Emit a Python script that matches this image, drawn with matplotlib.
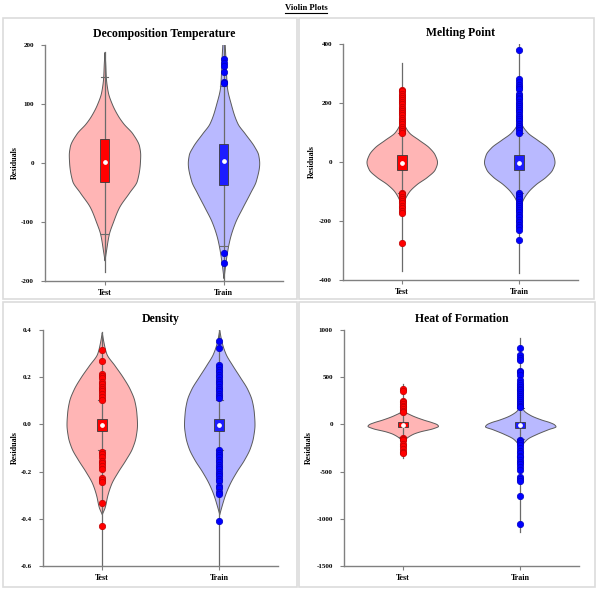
import numpy as np
import matplotlib
matplotlib.use('Agg')
import matplotlib.pyplot as plt
from matplotlib.patches import Rectangle
from matplotlib.lines import Line2D

plt.rcParams['font.family'] = ['Liberation Serif', 'DejaVu Serif']
plt.rcParams['font.weight'] = 'bold'

W, H = 600, 596

categories = ['Test', 'Train']
titles = ['Decomposition Temperature', 'Melting Point', 'Density', 'Heat of Formation']

# ---- Decomposition Temperature ----
dt_test_prof_y = [188, 170, 145, 120, 100, 80, 67, 50, 28, 14, 0, -30, -50, -75, -100, -120, -150, -165]
dt_test_prof_w = [0, 2, 4, 10, 22, 40, 56, 83, 103, 106, 105, 96, 73, 43, 25, 13, 4, 0]
dt_train_prof_y = [205, 186, 160, 130, 100, 67, 50, 28, 14, 0, -30, -50, -75, -100, -125, -140, -160, -195]
dt_train_prof_w = [3, 5, 7, 10, 22, 42, 64, 92, 104, 107, 97, 80, 57, 35, 20, 14, 8, 0]
dt_box = {'Test': (-32, 2, 40), 'Train': (-37, 3, 32)}
dt_caps = {'Test': (-120, 145), 'Train': (-140, 130)}
dt_range = {'Test': (-184, 188), 'Train': (-205, 205)}
dt_test_out = []
dt_train_out = [177, 169, 165, 155, 137, 135, -152, -169]
dt_yticks = [-200, -100, 0, 100, 200]

# ---- Melting Point ----
mp_test_prof_y = [140, 130, 100, 75, 50, 25, 0, -25, -50, -75, -100, -125, -150]
mp_test_prof_w = [0, 5, 22, 52, 82, 100, 107, 100, 77, 45, 22, 9, 0]
mp_train_prof_y = [150, 130, 100, 75, 50, 25, 0, -25, -50, -75, -100, -125, -150, -160]
mp_train_prof_w = [0, 6, 25, 55, 85, 102, 107, 100, 80, 50, 27, 12, 3, 0]
mp_box = {'Test': (-28, -4, 24), 'Train': (-28, -3, 24)}
mp_caps = {'Test': (-105, 100), 'Train': (-105, 100)}
mp_range = {'Test': (-370, 335), 'Train': (-377, 400)}
mp_test_out = [245, 240, 232, 225, 218, 210, 202, 195, 188, 180, 172, 165, 158, 150, 142,
               135, 128, 120, 112, 105, 100, -105, -110, -118, -125, -132, -140, -148,
               -156, -165, -172, -275]
mp_train_out = [380, 280, 272, 262, 255, 248, 230, 225, 218, 212, 205, 198, 190, 183, 176,
                168, 160, 152, 145, 138, 130, 122, 115, 108, 100, -105, -112, -120, -127,
                -134, -141, -148, -155, -162, -170, -178, -186, -195, -205, -215, -222,
                -230, -265]
mp_yticks = [-400, -200, 0, 200, 400]

# ---- Density ----
d_test_prof_y = [0.39, 0.35, 0.30, 0.25, 0.20, 0.15, 0.10, 0.05, 0.0, -0.05, -0.10, -0.15, -0.20, -0.25, -0.30, -0.35, -0.38]
d_test_prof_w = [0, 5, 14, 39, 64, 85, 99, 105, 107, 103, 92, 72, 49, 29, 17, 9, 0]
d_train_prof_y = [0.40, 0.35, 0.30, 0.25, 0.20, 0.15, 0.10, 0.05, 0.0, -0.05, -0.10, -0.15, -0.20, -0.25, -0.30, -0.35, -0.38]
d_train_prof_w = [0, 7, 19, 40, 63, 85, 99, 105, 107, 103, 93, 75, 52, 32, 17, 6, 0]
d_box = {'Test': (-0.027, -0.002, 0.025), 'Train': (-0.027, -0.002, 0.025)}
d_caps = {'Test': (-0.11, 0.105), 'Train': (-0.11, 0.105)}
d_range = {'Test': (-0.6, 0.39), 'Train': (-0.6, 0.40)}
d_test_out = [0.315, 0.27, 0.215, 0.205, 0.195, 0.18, 0.17, 0.16, 0.15, 0.14, 0.13, 0.115,
              0.105, -0.115, -0.125, -0.14, -0.155, -0.165, -0.175, -0.19, -0.225, -0.235,
              -0.245, -0.335, -0.43]
d_train_out = [0.355, 0.325, 0.25, 0.245, 0.23, 0.22, 0.21, 0.2, 0.19, 0.18, 0.17, 0.16,
               0.15, 0.14, 0.13, 0.12, 0.11, -0.11, -0.12, -0.13, -0.14, -0.15, -0.16,
               -0.17, -0.18, -0.19, -0.2, -0.21, -0.22, -0.23, -0.24, -0.26, -0.27, -0.285,
               -0.295, -0.41]
d_yticks = [-0.6, -0.4, -0.2, 0.0, 0.2, 0.4]

# ---- Heat of Formation ----
h_test_prof_y = [180, 140, 100, 50, 25, 0, -15, -40, -75, -100, -150, -180]
h_test_prof_w = [0, 5, 25, 62, 85, 102, 105, 90, 50, 30, 8, 0]
h_train_prof_y = [230, 180, 150, 100, 50, 25, 0, -20, -50, -100, -150, -200, -230]
h_train_prof_w = [0, 5, 10, 30, 65, 88, 103, 107, 85, 50, 22, 8, 0]
h_box = {'Test': (-32, -5, 28), 'Train': (-35, -10, 30)}
h_caps = {'Test': (-130, 125), 'Train': (-150, 170)}
h_range = {'Test': (-360, 430), 'Train': (-1140, 920)}
h_test_out = [375, 355, 250, 235, 220, 195, 180, 160, 140, 130, -140, -150, -165, -210,
              -230, -265, -290, -305]
h_train_out = [810, 730, 700, 680, 570, 550, 520, 470, 440, 420, 400, 380, 360, 340, 320,
               300, 280, 260, 240, 220, 200, 180, -160, -180, -200, -220, -250, -280, -300,
               -330, -350, -380, -400, -420, -450, -480, -560, -580, -600, -760, -1050]
h_yticks = [-1500, -1000, -500, 0, 500, 1000]

panels = [
    dict(title=titles[0], prof=[(dt_test_prof_y, dt_test_prof_w), (dt_train_prof_y, dt_train_prof_w)],
         box=dt_box, caps=dt_caps, rng=dt_range, out=[dt_test_out, dt_train_out], yticks=dt_yticks,
         rect=(45, 45, 283, 281), title_y=34, ylab_x=15, fmt='{:.0f}'),
    dict(title=titles[1], prof=[(mp_test_prof_y, mp_test_prof_w), (mp_train_prof_y, mp_train_prof_w)],
         box=mp_box, caps=mp_caps, rng=mp_range, out=[mp_test_out, mp_train_out], yticks=mp_yticks,
         rect=(343, 44, 578, 280), title_y=33, ylab_x=312, fmt='{:.0f}'),
    dict(title=titles[2], prof=[(d_test_prof_y, d_test_prof_w), (d_train_prof_y, d_train_prof_w)],
         box=d_box, caps=d_caps, rng=d_range, out=[d_test_out, d_train_out], yticks=d_yticks,
         rect=(43, 330, 278, 566), title_y=319, ylab_x=15, fmt='{:.1f}'),
    dict(title=titles[3], prof=[(h_test_prof_y, h_test_prof_w), (h_train_prof_y, h_train_prof_w)],
         box=h_box, caps=h_caps, rng=h_range, out=[h_test_out, h_train_out], yticks=h_yticks,
         rect=(344, 330, 579, 566), title_y=319, ylab_x=309, fmt='{:.0f}'),
]

violin_fc = ['#ffb5b5', '#b9b9ff']
box_fc = ['#ff0000', '#1c1cff']
dot_fc = ['#ff0000', '#0000ff']
dot_ec = ['#c00000', '#0000c0']
edge_c = '#5a5a5a'
axis_c = '#808080'


def pchip(x, y, xn):
    x = np.asarray(x, float)
    y = np.asarray(y, float)
    h = np.diff(x)
    d = np.diff(y) / h
    n = len(x)
    m = np.zeros(n)
    for k in range(1, n - 1):
        if d[k - 1] * d[k] > 0:
            w1 = 2 * h[k] + h[k - 1]
            w2 = h[k] + 2 * h[k - 1]
            m[k] = (w1 + w2) / (w1 / d[k - 1] + w2 / d[k])
    m[0] = d[0]
    m[-1] = d[-1]
    idx = np.clip(np.searchsorted(x, xn) - 1, 0, n - 2)
    t = (xn - x[idx]) / h[idx]
    h00 = 2 * t**3 - 3 * t**2 + 1
    h10 = t**3 - 2 * t**2 + t
    h01 = -2 * t**3 + 3 * t**2
    h11 = t**3 - t**2
    return h00 * y[idx] + h10 * h[idx] * m[idx] + h01 * y[idx + 1] + h11 * h[idx] * m[idx + 1]


fig = plt.figure(figsize=(W / 100, H / 100), dpi=100)

# panel frames
for (x0, y0, x1, y1) in [(3, 18, 297, 299), (299, 18, 594, 299), (3, 302, 297, 587), (299, 302, 595, 587)]:
    fig.add_artist(Rectangle((x0 / W, 1 - y1 / H), (x1 - x0) / W, (y1 - y0) / H,
                             transform=fig.transFigure, fill=False, edgecolor='#dcdcdc', lw=1.2))

VHALF = 0.30
BHALF = 0.042

for p in panels:
    x0, y0, x1, y1 = p['rect']
    ax = fig.add_axes([x0 / W, 1 - y1 / H, (x1 - x0) / W, (y1 - y0) / H])
    ax.set_xlim(-0.5, 1.5)
    ax.set_ylim(p['yticks'][0], p['yticks'][-1])
    for i, cat in enumerate(categories):
        py, pw = p['prof'][i]
        order = np.argsort(py)
        py = np.asarray(py, float)[order]
        pw = np.asarray(pw, float)[order]
        ys = np.linspace(py[0], py[-1], 400)
        ws = np.clip(pchip(py, pw, ys), 0, None) / pw.max() * VHALF
        ax.fill_betweenx(ys, i - ws, i + ws, facecolor=violin_fc[i], edgecolor=edge_c,
                         lw=0.7, zorder=1)
        lo, hi = p['rng'][cat]
        ax.plot([i, i], [lo, hi], color='#6a6a6a', lw=0.9, zorder=2)
        for c in p['caps'][cat]:
            ax.plot([i - 0.03, i + 0.03], [c, c], color='#6a6a6a', lw=0.8, zorder=2)
        q1, med, q3 = p['box'][cat]
        ax.add_patch(Rectangle((i - BHALF, q1), 2 * BHALF, q3 - q1, facecolor=box_fc[i],
                               edgecolor='#3a3a3a', lw=0.6, zorder=3))
        outs = p['out'][i]
        if outs:
            ax.plot([i] * len(outs), outs, 'o', ms=4.6, mfc=dot_fc[i], mec=dot_ec[i],
                    mew=0.5, zorder=4)
        ax.plot([i], [med], 'o', ms=2.4, mfc='white', mec='white', zorder=5)
    ax.set_xticks([0, 1])
    ax.set_xticklabels(categories)
    ax.set_yticks(p['yticks'])
    ax.set_yticklabels([p['fmt'].format(v) for v in p['yticks']])
    for s in ['top', 'right']:
        ax.spines[s].set_visible(False)
    for s in ['left', 'bottom']:
        ax.spines[s].set_color(axis_c)
        ax.spines[s].set_linewidth(1.0)
    ax.tick_params(axis='y', length=3, width=0.8, color=axis_c, labelsize=5, pad=5)
    ax.tick_params(axis='x', length=3, width=0.8, color=axis_c, labelsize=5.8, pad=3)
    for lab in ax.get_xticklabels() + ax.get_yticklabels():
        lab.set_fontweight('bold')
    ax.set_facecolor('none')
    fig.text((x0 + x1) / 2 / W, 1 - p['title_y'] / H, p['title'], ha='center', va='center',
             fontsize=8.5, fontweight='bold')
    fig.text(p['ylab_x'] / W, 1 - (y0 + y1) / 2 / H, 'Residuals', rotation=90, ha='center',
             va='center', fontsize=5.8, fontweight='bold')

t = fig.text(306 / W, 1 - 8 / H, 'Violin Plots', ha='center', va='center', fontsize=6.2,
             fontweight='bold')
fig.canvas.draw()
bb = t.get_window_extent(renderer=fig.canvas.get_renderer())
fig.add_artist(Line2D([bb.x0 / W, bb.x1 / W], [(bb.y0 - 0.5) / H, (bb.y0 - 0.5) / H],
                      transform=fig.transFigure, color='black', lw=0.8))

fig.savefig('out.png', dpi=100)
